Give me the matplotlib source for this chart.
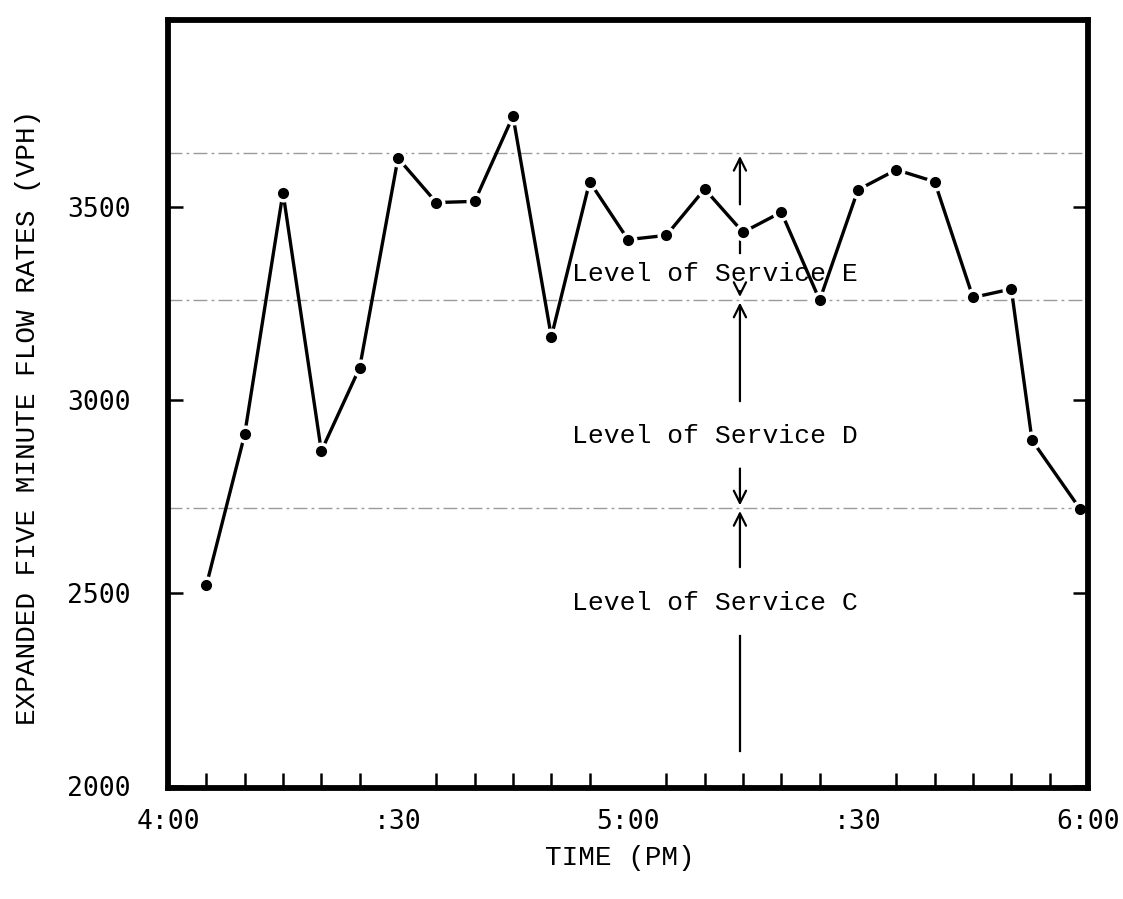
import matplotlib
matplotlib.use("Agg")
import matplotlib.pyplot as plt

# minutes after 4:00 PM
minutes = [5, 10, 15, 20, 25, 30, 35, 40, 45, 50, 55, 60, 65, 70, 75, 80, 85, 90, 95, 100, 105, 110, 112.7, 119]
flow = [2520, 2911, 3538, 2868, 3084, 3627, 3512, 3515, 3736, 3164, 3566, 3416, 3427, 3547, 3435, 3487,
        3259, 3545, 3597, 3566, 3266, 3288, 2896, 2717]

los_bounds = [3640, 3260, 2720]
los_labels = ["Level of Service E", "Level of Service D", "Level of Service C"]
los_label_y = [3326, 2907, 2475]

xtick_pos = [0, 30, 60, 90, 120]
xtick_labels = ["4:00", ":30", "5:00", ":30", "6:00"]
minor_ticks = list(range(5, 120, 5))
ytick_pos = [2000, 2500, 3000, 3500]

mono = "Liberation Mono"
tickfont = "DejaVu Sans Mono"

fig = plt.figure(figsize=(11.23, 8.99), dpi=100)
ax = fig.add_axes([168/1123, 1-788/899, 920/1123, 768/899])
ax.set_xlim(0, 120)
ax.set_ylim(1995, 3985)

# level of service boundary lines
for b in los_bounds:
    ax.axhline(b, color="#9a9a9a", lw=1.0, ls=(0, (10, 3, 2, 3)), zorder=1)

# data line
ax.plot(minutes, flow, color="black", lw=2.4, zorder=3, solid_capstyle="butt")
ax.plot(minutes, flow, ls="none", marker="o", ms=12, color="white", zorder=4)
ax.plot(minutes, flow, ls="none", marker="o", ms=7, color="black", zorder=5)

# vertical arrow and LOS labels
ax_x = 74.6
ap = dict(arrowstyle="->", color="black", lw=1.6, mutation_scale=22)
ax.plot([ax_x, ax_x], [2090, 2390], color="black", lw=1.6, zorder=2)
ax.annotate("", xy=(ax_x, los_bounds[2]), xytext=(ax_x, 2560), arrowprops=ap)
ax.annotate("", xy=(ax_x, los_bounds[2]), xytext=(ax_x, 2830), arrowprops=ap)
ax.annotate("", xy=(ax_x, los_bounds[1]), xytext=(ax_x, 2990), arrowprops=ap)
ax.annotate("", xy=(ax_x, los_bounds[1]), xytext=(ax_x, 3290), arrowprops=ap)
ax.plot([ax_x, ax_x], [3380, 3415], color="black", lw=1.6, zorder=2)
ax.annotate("", xy=(ax_x, los_bounds[0]), xytext=(ax_x, 3500), arrowprops=ap)

for lab, ly in zip(los_labels, los_label_y):
    ax.text(52.7, ly, lab, family=mono, fontsize=19, ha="left", va="center", zorder=6)

# spines
for s in ax.spines.values():
    s.set_linewidth(4.2)
    s.set_zorder(10)

ax.set_xticks(xtick_pos)
ax.set_xticklabels(xtick_labels, family=tickfont, fontsize=19)
ax.set_xticks(minor_ticks, minor=True)
ax.tick_params(axis="x", which="both", direction="in", length=11, width=1.8, pad=15)
ax.tick_params(axis="x", which="major", length=0)

ax.set_yticks(ytick_pos)
ax.set_yticklabels([str(v) for v in ytick_pos], family=tickfont, fontsize=19)
ax.tick_params(axis="y", which="major", direction="in", length=11, width=1.8, pad=27,
               left=True, right=True)

fig.text(28/1123, 1-417/899, "EXPANDED FIVE MINUTE FLOW RATES (VPH)", rotation=90,
         family=mono, fontsize=20, ha="center", va="center")
fig.text(620/1123, 1-858/899, "TIME (PM)", family=mono, fontsize=20, ha="center", va="center")

fig.savefig("out.png", dpi=100, facecolor="white")
